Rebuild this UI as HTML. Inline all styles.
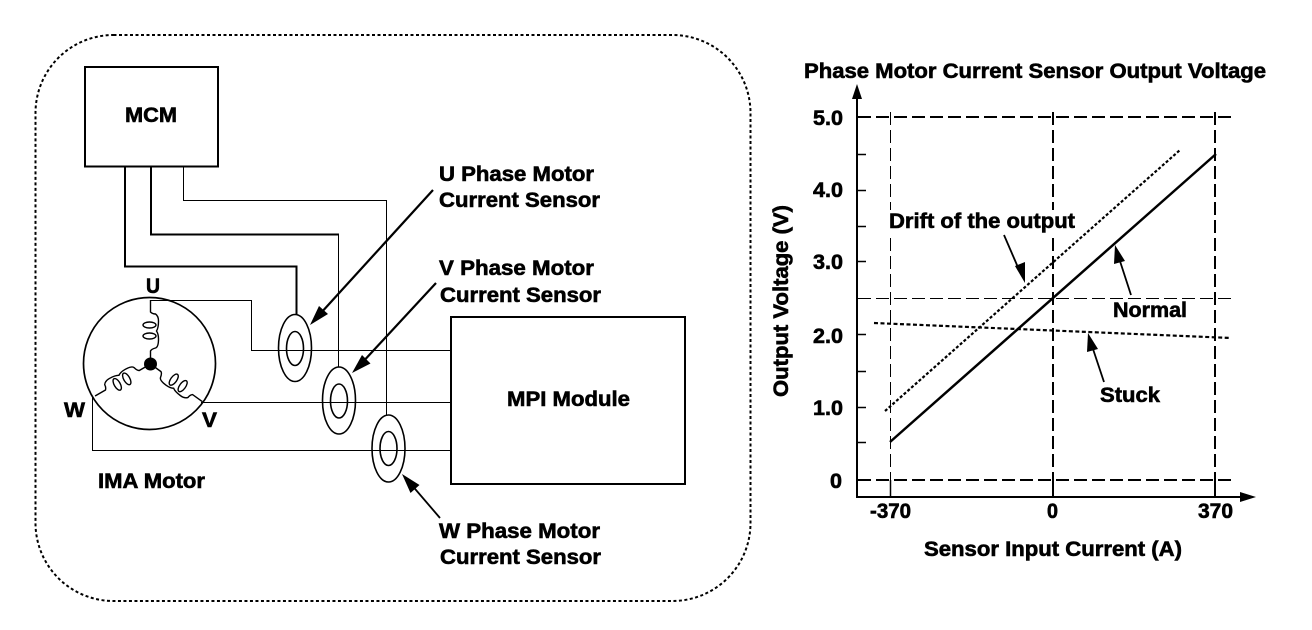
<!DOCTYPE html>
<html>
<head>
<meta charset="utf-8">
<style>
html,body{margin:0;padding:0;background:#fff;}
svg{display:block;}
text{font-family:"Liberation Sans",sans-serif;font-weight:bold;font-size:21px;fill:#000;stroke:#000;stroke-width:.6px;}
</style>
</head>
<body>
<svg width="1312" height="630" viewBox="0 0 1312 630" xmlns="http://www.w3.org/2000/svg">
<rect width="1312" height="630" fill="#fff"/>
<defs>
<g id="coil" fill="none" stroke="#000" stroke-width="1.4">
<path d="M0,-64V-52Q2,-50 5,-50Q8,-48 8,-43Q8,-36 6,-33Q8,-30 8,-25Q8,-17 5,-16Q1,-15 0,-13V0"/>
<ellipse cx="-1" cy="-39" rx="6.500" ry="3"/>
<ellipse cx="-1" cy="-28" rx="6.500" ry="3"/>
</g>
</defs>

<!-- dotted boundary -->
<rect x="35.500" y="35" width="715" height="566" rx="78" ry="78" fill="none" stroke="#000" stroke-width="2" stroke-dasharray="3 2.500"/>

<!-- boxes -->
<rect x="85" y="67" width="133" height="99.500" fill="none" stroke="#000" stroke-width="2"/>
<rect x="451" y="317" width="234" height="167" fill="none" stroke="#000" stroke-width="2"/>

<!-- wires -->
<g fill="none" stroke="#000">
<path d="M125,166V266.500H296.500V315" stroke-width="2"/>
<path d="M151,166V234.500H339" stroke-width="2"/>
<path d="M338.500,234V367" stroke-width="1"/>
<path d="M183.500,166V200.500H386.500V415" stroke-width="1"/>
<path d="M150,300.500H251.500V350.500H451" stroke-width="1"/>
<path d="M201,402.500H451" stroke-width="1"/>
<path d="M92.500,397V450.500H451" stroke-width="1"/>
</g>

<!-- sensors -->
<g fill="none" stroke="#000" stroke-width="1.600">
<ellipse cx="295" cy="348" rx="16.500" ry="33.500"/>
<ellipse cx="295" cy="348.500" rx="8.500" ry="17"/>
<ellipse cx="339" cy="400.500" rx="16.500" ry="33.500"/>
<ellipse cx="339" cy="401" rx="8.500" ry="17"/>
<ellipse cx="388.500" cy="448.500" rx="16.500" ry="33.500"/>
<ellipse cx="388.500" cy="448.500" rx="8.500" ry="17"/>
</g>

<!-- motor -->
<circle cx="149.500" cy="363.500" r="66" fill="none" stroke="#000" stroke-width="1.700"/>
<use href="#coil" transform="translate(150.500,364)"/>
<use href="#coil" transform="translate(150.500,364) rotate(126)"/>
<use href="#coil" transform="translate(150.500,364) rotate(240)"/>
<circle cx="150.500" cy="364" r="6.500" fill="#000"/>

<!-- left callout arrows -->
<g stroke="#000" fill="#000">
<line x1="433" y1="190" x2="320" y2="314" stroke-width="2.200"/>
<path d="M310,325L319,306L328,314Z" stroke="none"/>
<line x1="436" y1="283" x2="360" y2="365" stroke-width="2.200"/>
<path d="M352,373L362,355L370.500,363.500Z" stroke="none"/>
<line x1="440" y1="518" x2="410" y2="483" stroke-width="1.800"/>
<path d="M402,474L419.500,485L410.500,493Z" stroke="none"/>
</g>

<!-- chart axes -->
<g stroke="#000" fill="none">
<path d="M857,98V497H1240" stroke-width="2"/>
<path d="M857,154.500H866M857,190.500H866M857,226.500H866M857,261.500H866M857,334.500H866M857,371.500H866M857,407.500H866M857,442.500H866" stroke-width="1.500"/>
<path d="M1053,480V497M1215,480V497" stroke-width="2"/>
<path d="M890.500,480V497" stroke-width="1.500"/>
</g>
<path d="M857,84L862,99H852Z" fill="#000"/>
<path d="M1256,497L1240,492V502Z" fill="#000"/>

<!-- chart grid -->
<g stroke="#000" fill="none">
<line x1="858" y1="117" x2="1231" y2="117" stroke-width="2" stroke-dasharray="13 5"/>
<line x1="858" y1="480" x2="1231" y2="480" stroke-width="2" stroke-dasharray="13 5"/>
<line x1="858" y1="298.500" x2="1231" y2="298.500" stroke-width="1" stroke-dasharray="13 5"/>
<line x1="890.500" y1="112" x2="890.500" y2="482" stroke-width="1" stroke-dasharray="13 5"/>
<line x1="1053" y1="112" x2="1053" y2="482" stroke-width="2" stroke-dasharray="13 5"/>
<line x1="1215" y1="112" x2="1215" y2="482" stroke-width="2" stroke-dasharray="13 5"/>
</g>
<rect x="885" y="210" width="192" height="28" fill="#fff"/>

<!-- chart curves -->
<line x1="890" y1="442" x2="1216" y2="154" stroke="#000" stroke-width="2.500"/>
<line x1="885" y1="411" x2="1180" y2="150" stroke="#000" stroke-width="2.200" stroke-dasharray="3 2"/>
<line x1="874" y1="323" x2="1231" y2="338" stroke="#000" stroke-width="2.200" stroke-dasharray="4 2.500"/>

<!-- chart callouts -->
<g stroke="#000" stroke-width="1.800" fill="#000">
<line x1="1004" y1="235" x2="1020" y2="272"/>
<path d="M1025,283L1015,266L1025,262Z" stroke="none"/>
<line x1="1131" y1="295" x2="1118" y2="255"/>
<path d="M1115,245L1125,261L1114,264Z" stroke="none"/>
<line x1="1104" y1="382" x2="1091" y2="343"/>
<path d="M1088,333L1098,349L1087,352Z" stroke="none"/>
</g>

<!-- labels -->
<g>
<text x="125" y="122" textLength="52" lengthAdjust="spacingAndGlyphs">MCM</text>
<text x="439" y="181" textLength="155" lengthAdjust="spacingAndGlyphs">U Phase Motor</text>
<text x="439" y="207" textLength="161" lengthAdjust="spacingAndGlyphs">Current Sensor</text>
<text x="439" y="275" textLength="155" lengthAdjust="spacingAndGlyphs">V Phase Motor</text>
<text x="440" y="302" textLength="161" lengthAdjust="spacingAndGlyphs">Current Sensor</text>
<text x="439" y="538" textLength="161" lengthAdjust="spacingAndGlyphs">W Phase Motor</text>
<text x="440" y="564" textLength="161" lengthAdjust="spacingAndGlyphs">Current Sensor</text>
<text x="507" y="406" textLength="123" lengthAdjust="spacingAndGlyphs">MPI Module</text>
<text x="146" y="293" textLength="14" lengthAdjust="spacingAndGlyphs">U</text>
<text x="64" y="417" textLength="21" lengthAdjust="spacingAndGlyphs">W</text>
<text x="202" y="427" textLength="15" lengthAdjust="spacingAndGlyphs">V</text>
<text x="98" y="488" textLength="107" lengthAdjust="spacingAndGlyphs">IMA Motor</text>

<text x="804" y="78" textLength="462" lengthAdjust="spacingAndGlyphs">Phase Motor Current Sensor Output Voltage</text>
<text x="813" y="125" textLength="30" lengthAdjust="spacingAndGlyphs">5.0</text>
<text x="813" y="197" textLength="30" lengthAdjust="spacingAndGlyphs">4.0</text>
<text x="813" y="269" textLength="30" lengthAdjust="spacingAndGlyphs">3.0</text>
<text x="813" y="343" textLength="30" lengthAdjust="spacingAndGlyphs">2.0</text>
<text x="813" y="415" textLength="30" lengthAdjust="spacingAndGlyphs">1.0</text>
<text x="830" y="488" textLength="12" lengthAdjust="spacingAndGlyphs">0</text>
<text x="870" y="518" textLength="41" lengthAdjust="spacingAndGlyphs">-370</text>
<text x="1047" y="518" textLength="11" lengthAdjust="spacingAndGlyphs">0</text>
<text x="1198" y="518" textLength="35" lengthAdjust="spacingAndGlyphs">370</text>
<text x="924" y="556" textLength="258" lengthAdjust="spacingAndGlyphs">Sensor Input Current (A)</text>
<text transform="translate(788,397) rotate(-90)" x="0" y="0" textLength="192" lengthAdjust="spacingAndGlyphs">Output Voltage (V)</text>
<text x="889" y="228" textLength="186" lengthAdjust="spacingAndGlyphs">Drift of the output</text>
<text x="1113" y="317" textLength="74" lengthAdjust="spacingAndGlyphs">Normal</text>
<text x="1100" y="402" textLength="60" lengthAdjust="spacingAndGlyphs">Stuck</text>
</g>
</svg>
</body>
</html>
